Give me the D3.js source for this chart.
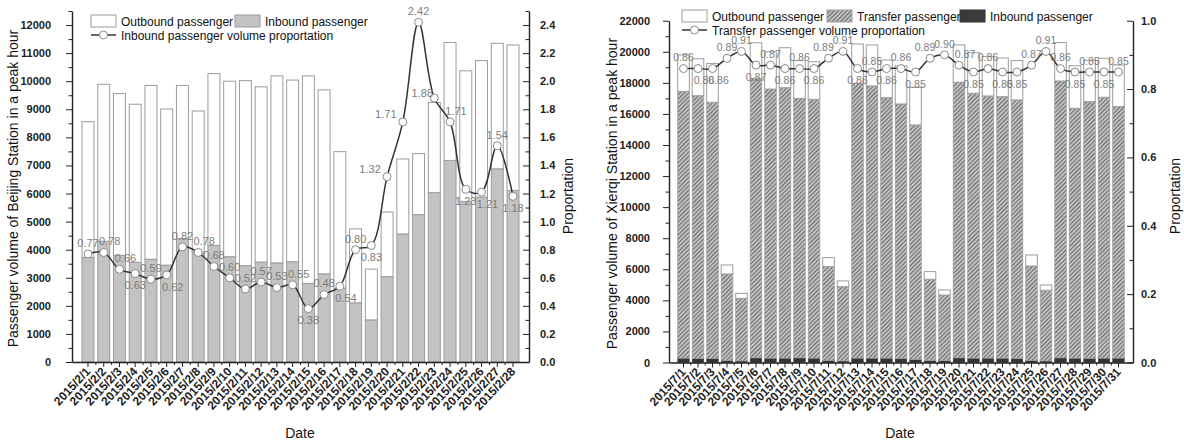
<!DOCTYPE html>
<html><head><meta charset="utf-8">
<script src="https://cdn.jsdelivr.net/npm/d3@7"></script>
<style>
body{margin:0;background:#fff;}
text{font-family:"Liberation Sans",Arial,Helvetica,sans-serif;}
</style>
</head><body>
<svg id="c" width="1184" height="443"></svg>
<script>
// ---------------- Beijing Station (Feb 2015) ----------------
const bjDates = ["2015/2/1","2015/2/2","2015/2/3","2015/2/4","2015/2/5","2015/2/6","2015/2/7","2015/2/8","2015/2/9","2015/2/10","2015/2/11","2015/2/12","2015/2/13","2015/2/14","2015/2/15","2015/2/16","2015/2/17","2015/2/18","2015/2/19","2015/2/20","2015/2/21","2015/2/22","2015/2/23","2015/2/24","2015/2/25","2015/2/26","2015/2/27","2015/2/28"];
const bjInbound = [3720,4300,3800,3550,3660,3450,4400,3920,4150,3750,3430,3560,3530,3570,2800,3140,2630,2110,1500,3040,4560,5250,6030,7180,5720,5875,6880,6110];
const bjOutbound = [4840,5590,5760,5630,6190,5560,5450,5020,6120,6250,6590,6240,6660,6470,7390,6550,4860,2630,1810,2300,2670,2170,3210,4200,4650,4860,4470,5180];
const bjProportion = [0.77,0.78,0.66,0.63,0.59,0.62,0.82,0.78,0.68,0.60,0.52,0.57,0.53,0.55,0.38,0.48,0.54,0.80,0.83,1.32,1.71,2.42,1.88,1.71,1.23,1.21,1.54,1.18];
const bjLabelPlace = ["a","ar","ar","b","a","br","a","ar","a","a","a","a","a","ar","b","a","br","a","b","L","L","a","AL","ar","b","br","a","b"];
const bjLeftTicks = [0,1000,2000,3000,4000,5000,6000,7000,8000,9000,10000,11000,12000];
const bjRightTicks = [0.0,0.2,0.4,0.6,0.8,1.0,1.2,1.4,1.6,1.8,2.0,2.2,2.4];

// ---------------- Xierqi Station (Jul 2015) ----------------
const xqDates = ["2015/7/1","2015/7/2","2015/7/3","2015/7/4","2015/7/5","2015/7/6","2015/7/7","2015/7/8","2015/7/9","2015/7/10","2015/7/11","2015/7/12","2015/7/13","2015/7/14","2015/7/15","2015/7/16","2015/7/17","2015/7/18","2015/7/19","2015/7/20","2015/7/21","2015/7/22","2015/7/23","2015/7/24","2015/7/25","2015/7/26","2015/7/27","2015/7/28","2015/7/29","2015/7/30","2015/7/31"];
const xqInbound = [280,260,260,130,100,300,280,280,300,280,130,100,280,280,280,260,200,130,120,300,280,280,280,260,130,100,300,280,260,280,280];
const xqTransfer = [17170,16910,16490,5570,4030,17990,17320,17410,16700,16660,6040,4780,17690,17520,16765,16380,15090,5225,4225,17740,17050,16875,16830,16640,6080,4550,17820,16080,16530,16790,16190];
const xqOutbound = [2350,2380,2500,580,320,2290,2400,2570,2430,2420,580,370,2530,2640,2425,2460,2420,495,325,2400,2610,2545,2490,2530,710,340,2470,2740,2660,2510,2680];
const xqProportion = [0.86,0.86,0.86,0.89,0.91,0.87,0.87,0.86,0.86,0.86,0.89,0.91,0.86,0.85,0.86,0.86,0.85,0.89,0.90,0.87,0.85,0.86,0.85,0.85,0.87,0.91,0.86,0.85,0.85,0.85,0.85];
const xqLabelPlace = ["a","br","br","a","a","b","a","b","a","b","al","a","b","a","b","a","b","al","a","ar","b","a","b","b","a","a","a","b","a","b","a"];
const xqLeftTicks = [0,2000,4000,6000,8000,10000,12000,14000,16000,18000,20000,22000];
const xqRightTicks = [0.0,0.2,0.4,0.6,0.8,1.0];

// ---------------- drawing ----------------
const svg = d3.select("#c");
const defs = svg.append("defs");
const pat = defs.append("pattern").attr("id","hatch").attr("width",3).attr("height",3)
  .attr("patternUnits","userSpaceOnUse").attr("patternTransform","rotate(45)");
pat.append("rect").attr("width",3).attr("height",3).attr("fill","#c2c2c2");
pat.append("line").attr("x1",0.5).attr("y1",0).attr("x2",0.5).attr("y2",3).attr("stroke","#6a6a6a").attr("stroke-width",1.1);

const placeOffsets = {a:[0,-11], b:[0,12], ar:[6,-11], br:[6,12], al:[-5,-11], L:[-17,-8], AL:[-12,-5]};
const AX = "#222";

function drawPanel(cfg){
  const g = svg.append("g");
  const x = d3.scaleBand().domain(cfg.dates).range(cfg.xRange).paddingInner(cfg.pi).paddingOuter(cfg.po);
  const yL = d3.scaleLinear().domain(cfg.yLDomain).range(cfg.yRange);
  const yR = d3.scaleLinear().domain(cfg.yRDomain).range(cfg.yRange);
  const cx = d => x(d) + x.bandwidth()/2;
  const y0 = cfg.yRange[0];

  // stacked bars
  const keys = cfg.series.map(s => s.key);
  const rows = cfg.dates.map((d,i) => { const r = {date:d}; cfg.series.forEach(s => r[s.key] = s.values[i]); return r; });
  const layers = d3.stack().keys(keys)(rows);
  layers.forEach((layer, li) => {
    const s = cfg.series[li];
    g.append("g").selectAll("rect").data(layer).join("rect")
      .attr("x", d => x(d.data.date)).attr("width", x.bandwidth())
      .attr("y", d => yL(d[1])).attr("height", d => yL(d[0]) - yL(d[1]))
      .attr("fill", s.fill).attr("stroke", s.stroke).attr("stroke-width", s.sw);
  });

  // axes
  const gl = g.append("g").attr("transform", `translate(${cfg.xRange[0]},0)`);
  gl.call(d3.axisLeft(yL).tickValues(cfg.yLTicks).tickSize(6).tickSizeOuter(0).tickPadding(cfg.lPad).tickFormat(d3.format("d")));
  gl.append("g").call(d3.axisLeft(yL).tickValues(d3.range(cfg.yLMinorStep/2, cfg.yLDomain[1]+1, cfg.yLMinorStep)).tickSize(3.5).tickFormat(""))
    .select(".domain").remove();
  const gr = g.append("g").attr("transform", `translate(${cfg.xRange[1]},0)`);
  gr.call(d3.axisRight(yR).tickValues(cfg.yRTicks).tickSize(-6).tickSizeOuter(0).tickPadding(cfg.rPad).tickFormat(d3.format(".1f")));
  gr.append("g").call(d3.axisRight(yR).tickValues(d3.range(cfg.yRMinorStep/2, cfg.yRDomain[1]+1e-6, cfg.yRMinorStep)).tickSize(-3.5).tickFormat(""))
    .select(".domain").remove();
  const gb = g.append("g").attr("transform", `translate(0,${y0})`);
  gb.call(d3.axisBottom(x).tickSize(5).tickSizeOuter(0).tickFormat(""));
  gb.append("g").selectAll("line").data(cfg.dates.slice(1)).join("line")
    .attr("x1", d => x(d) - x.step()*x.paddingInner()/2).attr("x2", d => x(d) - x.step()*x.paddingInner()/2)
    .attr("y1", 0).attr("y2", 3).attr("stroke", AX);
  [gl, gr, gb].forEach(a => {
    a.selectAll(".domain").attr("stroke", AX).attr("stroke-width", 1.4);
    a.selectAll("line").attr("stroke", AX).attr("stroke-width", 1);
    a.selectAll("text").attr("font-size", 11).attr("font-weight", "bold").attr("fill", "#222")
      .attr("font-family", '"Liberation Sans",Arial,sans-serif');
  });

  // x labels
  g.append("g").selectAll("text").data(cfg.dates).join("text")
    .attr("transform", d => `translate(${cx(d)+3},${y0+10}) rotate(-47)`)
    .attr("text-anchor", "end").attr("font-size", 12).attr("font-weight", "bold").attr("fill", "#222")
    .text(d => d);

  // proportion line
  const line = d3.line().x((d,i) => cx(cfg.dates[i])).y(d => yR(d)).curve(d3.curveCatmullRom.alpha(0.5));
  g.append("path").datum(cfg.prop).attr("d", line).attr("fill","none").attr("stroke","#333").attr("stroke-width",1.5);
  g.append("g").selectAll("circle").data(cfg.prop).join("circle")
    .attr("cx", (d,i) => cx(cfg.dates[i])).attr("cy", d => yR(d)).attr("r", 4)
    .attr("fill","#fff").attr("stroke","#8a8a8a").attr("stroke-width",1);
  g.append("g").selectAll("text").data(cfg.prop).join("text")
    .attr("x", (d,i) => cx(cfg.dates[i]) + placeOffsets[cfg.place[i]][0])
    .attr("y", (d,i) => yR(d) + placeOffsets[cfg.place[i]][1])
    .attr("dy","0.35em").attr("text-anchor","middle")
    .attr("font-size", cfg.labelSize).attr("fill","#7c7c7c")
    .text(d => d.toFixed(2));

  // titles
  g.append("text").attr("transform", `translate(${cfg.lTitleX},${(cfg.yRange[0]+cfg.yRange[1])/2+2}) rotate(-90)`)
    .attr("text-anchor","middle").attr("dy","0.35em").attr("font-size",14).attr("fill","#111").text(cfg.lTitle);
  g.append("text").attr("transform", `translate(${cfg.rTitleX},196) rotate(-90)`)
    .attr("text-anchor","middle").attr("dy","0.35em").attr("font-size",14).attr("fill","#111").text("Proportation");
  g.append("text").attr("x", cfg.dateX).attr("y", 438).attr("text-anchor","middle")
    .attr("font-size",14).attr("fill","#111").text("Date");

  // legend
  const lg = g.append("g");
  cfg.legend.forEach(it => {
    lg.append("rect").attr("x", it.x).attr("y", cfg.legY).attr("width", 25).attr("height", 12)
      .attr("fill", it.fill).attr("stroke", it.stroke).attr("stroke-width", 1);
    lg.append("text").attr("x", it.x + 30).attr("y", cfg.legY + 10.5).attr("font-size", 12).attr("fill","#111").text(it.label);
  });
  const lx = cfg.legend[0].x, ly2 = cfg.legY + 20;
  lg.append("line").attr("x1", lx).attr("x2", lx + 25).attr("y1", ly2).attr("y2", ly2).attr("stroke","#333").attr("stroke-width",1.5);
  lg.append("circle").attr("cx", lx + 12.5).attr("cy", ly2).attr("r", 4).attr("fill","#fff").attr("stroke","#8a8a8a");
  lg.append("text").attr("x", lx + 30).attr("y", ly2 + 4.5).attr("font-size", 12).attr("fill","#111").text(cfg.lineLabel);
}

drawPanel({
  dates: bjDates, xRange: [72, 529], pi: 0.24, po: 0.635,
  yLDomain: [0, 12500], yRDomain: [0, 2.5], yRange: [362, 11],
  yLTicks: bjLeftTicks, yRTicks: bjRightTicks, yLMinorStep: 1000, yRMinorStep: 0.2,
  lPad: 15, rPad: 11,
  series: [
    {key: "inbound", values: bjInbound, fill: "#c3c3c3", stroke: "#9c9c9c", sw: 1},
    {key: "outbound", values: bjOutbound, fill: "#ffffff", stroke: "#9c9c9c", sw: 1}
  ],
  prop: bjProportion, place: bjLabelPlace, labelSize: 11,
  lTitle: "Passenger volume of Beijing Station in a peak hour", lTitleX: 13, rTitleX: 568, dateX: 300,
  legY: 15,
  legend: [
    {x: 91, fill: "#fff", stroke: "#9c9c9c", label: "Outbound passenger"},
    {x: 235, fill: "#c3c3c3", stroke: "#9c9c9c", label: "Inbound passenger"}
  ],
  lineLabel: "Inbound passenger volume proportation"
});

drawPanel({
  dates: xqDates, xRange: [669, 1133], pi: 0.2, po: 0.6,
  yLDomain: [0, 22000], yRDomain: [0, 1.0], yRange: [362.5, 20.7],
  yLTicks: xqLeftTicks, yRTicks: xqRightTicks, yLMinorStep: 2000, yRMinorStep: 0.2,
  lPad: 13, rPad: 8,
  series: [
    {key: "inbound", values: xqInbound, fill: "#333333", stroke: "#333333", sw: 0.5},
    {key: "transfer", values: xqTransfer, fill: "url(#hatch)", stroke: "#a0a0a0", sw: 0.8},
    {key: "outbound", values: xqOutbound, fill: "#ffffff", stroke: "#9c9c9c", sw: 1}
  ],
  prop: xqProportion, place: xqLabelPlace, labelSize: 10.5,
  lTitle: "Passenger volume of Xierqi Station in a peak hour", lTitleX: 612, rTitleX: 1175, dateX: 900,
  legY: 10,
  legend: [
    {x: 682, fill: "#fff", stroke: "#9c9c9c", label: "Outbound passenger"},
    {x: 827, fill: "url(#hatch)", stroke: "#a0a0a0", label: "Transfer passenger"},
    {x: 960, fill: "#3a3a3a", stroke: "#333", label: "Inbound passenger"}
  ],
  lineLabel: "Transfer passenger volume proportation"
});
</script>
</body></html>
